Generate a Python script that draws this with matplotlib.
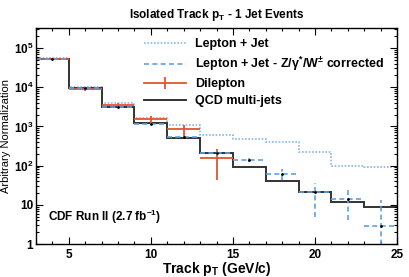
import numpy as np
import matplotlib
matplotlib.use("Agg")
import matplotlib.pyplot as plt
from matplotlib.ticker import FixedLocator, NullFormatter, MultipleLocator
from matplotlib.lines import Line2D

plt.rcParams['font.family'] = ['Liberation Sans', 'DejaVu Sans']
plt.rcParams['mathtext.fontset'] = 'custom'
plt.rcParams['mathtext.rm'] = 'Liberation Sans:bold'
plt.rcParams['mathtext.default'] = 'regular'

# ---- data ----
bin_edges = [3, 5, 7, 9, 11, 13, 15, 17, 19, 21, 23, 25]
qcd = [5.2e4, 9.4e3, 3.1e3, 1.2e3, 515, 211, 90, 40, 21, 11.7, 9.0]
lepjet = [5.5e4, 1.0e4, 3.9e3, 1.67e3, 1.1e3, 600, 465, 400, 223, 96, 90]
lepjet_corr = [5.1e4, 9.5e3, 3.1e3, 1.15e3, 545, 205, 140, 62, 21, 14.5, 2.9]
lepjet_corr_err = [1.5e3, 400, 150, 60, 40, 20, 15, 20, 16, 10.5, 10.5]
dilep = [5.1e4, 8.9e3, 3.5e3, 1.55e3, 840, 154]
dilep_err = [2.0e3, 700, 450, 330, 270, 110]
labels = ['Lepton + Jet',
          r'Lepton + Jet - Z/γ$^{*}$/W$^{\pm}$ corrected',
          'Dilepton',
          'QCD multi-jets']

c_dot = '#8db6e6'
c_dash = '#62a0de'
c_dil = '#e05535'
c_qcd = '#333333'

edges = np.array(bin_edges, dtype=float)
centers = 0.5 * (edges[:-1] + edges[1:])
halfw = 0.5 * np.diff(edges)

fig = plt.figure(figsize=(4.09, 2.77), dpi=100)
ax = fig.add_axes([0.088, 0.119, 0.883, 0.780])

ax.stairs(lepjet, edges, color=c_dot, lw=1.2, ls=(0, (1, 1)), baseline=None)
n_d = len(dilep)
ax.errorbar(centers[:n_d], dilep, xerr=halfw[:n_d], yerr=dilep_err,
            fmt='none', ecolor=c_dil, elinewidth=1.3)
ax.stairs(qcd, edges, color=c_qcd, lw=1.4, baseline=None)
h_dash = ax.errorbar(centers, lepjet_corr, xerr=halfw, yerr=lepjet_corr_err,
                     fmt='none', ecolor=c_dash, elinewidth=1.2)
for lc in h_dash.lines[2]:
    lc.set_linestyle((0, (3, 2)))
ax.plot(centers, lepjet_corr, ls='none', marker='o', ms=1.0, color='black')

ax.set_yscale('log')
ax.set_xlim(3, 25)
ax.set_ylim(1, 3.24e5)

ax.xaxis.set_major_locator(FixedLocator([5, 10, 15, 20, 25]))
ax.xaxis.set_minor_locator(MultipleLocator(1))
ax.yaxis.set_major_locator(FixedLocator([1, 10, 1e2, 1e3, 1e4, 1e5]))
ax.yaxis.set_minor_locator(FixedLocator([m * 10**e for e in range(0, 6) for m in range(2, 10)]))
ax.yaxis.set_minor_formatter(NullFormatter())
ax.set_yticklabels(['1', '10', '10$^{2}$', '10$^{3}$', '10$^{4}$', '10$^{5}$'])
ax.tick_params(which='both', direction='in', top=True, right=True, width=0.8)
ax.tick_params(which='major', length=5)
ax.tick_params(which='minor', length=2.5)
ax.tick_params(axis='x', which='major', pad=3.5, labelsize=8.5)
ax.tick_params(axis='y', which='major', pad=2, labelsize=8.5)
for lab in ax.get_xticklabels() + ax.get_yticklabels():
    lab.set_fontweight('bold')
for s in ax.spines.values():
    s.set_linewidth(1.0)

ax.set_xlabel('Track p$_{T}$ (GeV/c)', fontsize=10, fontweight='bold', labelpad=-1)
ax.set_ylabel('Arbitrary Normalization', fontsize=8)
ax.yaxis.set_label_coords(-0.068, 0.5)
ax.set_title('Isolated Track p$_{T}$ - 1 Jet Events', fontsize=8.5, fontweight='bold', pad=7)

ax.text(0.033, 0.085, 'CDF Run II (2.7 fb$^{-1}$)', transform=ax.transAxes,
        fontsize=8.5, fontweight='bold', va='bottom', ha='left')

leg_handles = [Line2D([], [], color=c_dot, lw=1.2, ls=(0, (1, 1))),
               Line2D([], [], color=c_dash, lw=1.2, ls=(0, (3, 2))),
               Line2D([], [], color=c_dil, lw=1.3, marker='|', ms=8, mew=1.3),
               Line2D([], [], color=c_qcd, lw=1.4)]
leg = ax.legend(leg_handles, labels, loc='upper left', bbox_to_anchor=(0.27, 1.0),
                frameon=False, prop={'weight': 'bold', 'size': 9},
                handlelength=3.4, handletextpad=0.7, labelspacing=0.4,
                borderaxespad=0.4)

fig.savefig('out.png', dpi=100)
